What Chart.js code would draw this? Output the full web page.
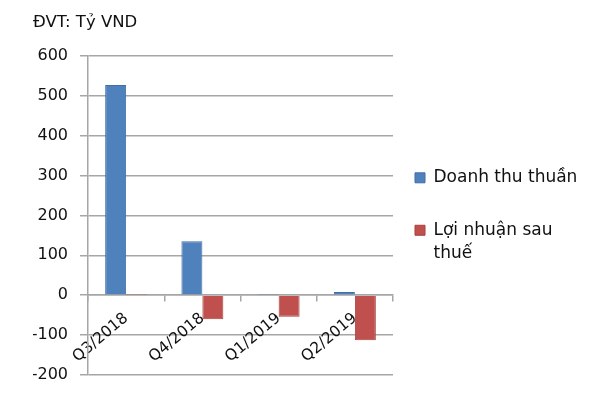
<!DOCTYPE html>
<html>
<head>
<meta charset="utf-8">
<script src="https://cdn.jsdelivr.net/npm/chart.js@4"></script>
<style>
  html, body { margin: 0; padding: 0; background: #fff; }
  #wrap { width: 600px; height: 400px; }
</style>
</head>
<body>
<div id="wrap"><canvas id="chart" width="600" height="400"></canvas></div>
<script>
// Data (Tỷ VND)
const quarters = ['Q3/2018', 'Q4/2018', 'Q1/2019', 'Q2/2019'];
const revenue = [527, 135, 3, 8];
const profit = [3, -60, -54, -113];
const seriesNames = ['Doanh thu thuần', 'Lợi nhuận sau thuế'];
const legendLines = [['Doanh thu thuần'], ['Lợi nhuận sau', 'thuế']];
const yTicks = [-200, -100, 0, 100, 200, 300, 400, 500, 600];

const FONT = '"DejaVu Sans", sans-serif';
const GRID = '#a6a6a6';
const INK = '#111';

// fixed legend column width so the plot ends where it should,
// then nudge the legend a bit left (its item padding is also the left inset)
const legendWidth = {
  id: 'legendWidth',
  beforeInit(chart) {
    const fit = chart.legend.fit;
    chart.legend.fit = function () {
      fit.call(this);
      this.width = 207;
    };
  },
  afterLayout(chart) {
    chart.legend.left -= 7;
  }
};

new Chart(document.getElementById('chart'), {
  type: 'bar',
  data: {
    labels: quarters,
    datasets: [
      { label: seriesNames[0], data: revenue, backgroundColor: '#4f81bd', borderColor: '#3f6fa8', borderWidth: 1 },
      { label: seriesNames[1], data: profit, backgroundColor: '#c0504d', borderColor: '#a8403d', borderWidth: 1 }
    ]
  },
  options: {
    responsive: false,
    animation: false,
    layout: { padding: { left: 33, top: 0, bottom: 25 } },
    datasets: { bar: { categoryPercentage: 0.55, barPercentage: 1 } },
    scales: {
      x: {
        position: { y: 0 },
        offset: true,
        grid: { display: true, drawOnChartArea: false, drawTicks: true, tickLength: 6, color: GRID, lineWidth: 1.5, offset: true },
        border: { display: true, color: GRID, width: 1.5 },
        ticks: { minRotation: 40, maxRotation: 40, autoSkip: false, color: INK, padding: 8, font: { family: FONT, size: 15.5 } }
      },
      y: {
        min: -200,
        max: 600,
        afterBuildTicks(scale) { scale.ticks = yTicks.map(v => ({ value: v })); },
        afterFit(scale) { scale.width = 55; },
        grid: { color: GRID, lineWidth: 1.5, tickLength: 8 },
        border: { display: true, color: GRID, width: 1.5 },
        ticks: { color: INK, padding: 12, font: { family: FONT, size: 16 } }
      }
    },
    plugins: {
      title: {
        display: true,
        text: 'ĐVT: Tỷ VND',
        align: 'start',
        color: INK,
        font: { family: FONT, size: 16.5, weight: 'normal', lineHeight: 1.2 },
        padding: { top: 13, bottom: 23 }
      },
      legend: {
        position: 'right',
        // empty title only pushes the legend items down
        title: { display: true, text: '', font: { size: 1, lineHeight: 1 }, padding: { top: 0, bottom: 62 } },
        labels: {
          color: INK,
          boxWidth: 10,
          boxHeight: 10,
          padding: 29,
          font: { family: FONT, size: 17, lineHeight: 1.38 },
          generateLabels(chart) {
            return chart.data.datasets.map((ds, i) => ({
              text: legendLines[i],
              fillStyle: ds.backgroundColor,
              strokeStyle: ds.borderColor,
              fontColor: INK,
              lineWidth: 1,
              datasetIndex: i
            }));
          }
        }
      },
      tooltip: { enabled: false }
    }
  },
  plugins: [legendWidth]
});
</script>
</body>
</html>
